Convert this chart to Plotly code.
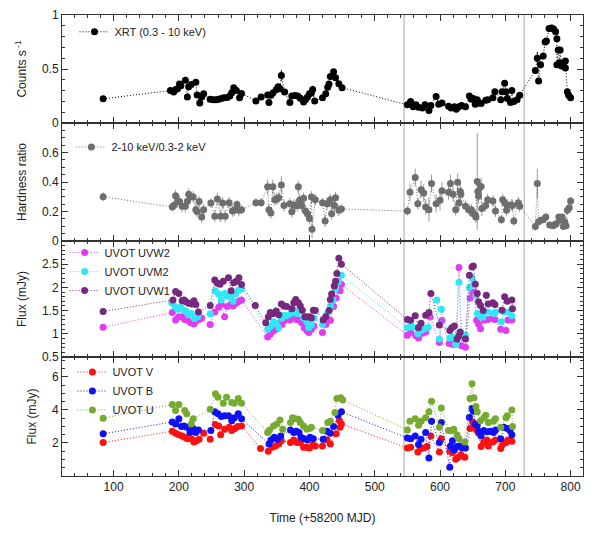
import plotly.graph_objects as go
from plotly.subplots import make_subplots

# XRT count rate (0.3-10 keV)
xrt_t = [84, 187, 192, 195, 198, 201, 203, 210, 213, 215, 219, 226, 228, 232, 235, 238, 248, 253, 257, 261, 265, 269, 274, 278, 281, 284, 288, 293, 296,
         318, 326, 336, 338, 341, 344, 349, 352, 355, 357, 362, 370, 373, 378, 382, 386, 391, 394, 397, 400, 403, 405, 408, 420, 425, 428, 430, 432, 437, 440, 445, 450,
         550, 555, 559, 563, 567, 573, 577, 583, 586, 594, 598, 603, 613, 617, 622, 625, 629, 633, 639, 645, 648, 651, 654, 657, 660, 663, 670, 673, 681, 684,
         693, 695, 699, 701, 703, 708, 710, 713, 718, 722,
         746, 749, 751, 754, 758, 761, 763, 767, 771, 774, 777, 779, 779, 781, 783, 784, 786, 789, 792, 792, 795, 797, 800]
xrt_rate = [0.224, 0.30, 0.286, 0.31, 0.316, 0.36, 0.345, 0.395, 0.24, 0.336, 0.357, 0.378, 0.26, 0.186, 0.24, 0.27, 0.22, 0.215, 0.215, 0.22, 0.227, 0.233, 0.236, 0.25, 0.28, 0.327, 0.30, 0.233, 0.274,
            0.204, 0.24, 0.26, 0.19, 0.257, 0.277, 0.307, 0.336, 0.316, 0.44, 0.286, 0.19, 0.25, 0.254, 0.25, 0.23, 0.195, 0.218, 0.24, 0.27, 0.277, 0.31, 0.204, 0.233, 0.27, 0.33, 0.36, 0.43, 0.475, 0.42, 0.363, 0.327,
            0.168, 0.198, 0.15, 0.168, 0.145, 0.139, 0.168, 0.115, 0.162, 0.245, 0.174, 0.186, 0.156, 0.139, 0.15, 0.127, 0.15, 0.162, 0.15, 0.25, 0.22, 0.227, 0.174, 0.215, 0.186, 0.18, 0.21, 0.215, 0.233, 0.29,
            0.215, 0.29, 0.369, 0.29, 0.227, 0.19, 0.30, 0.2, 0.215, 0.257,
            0.487, 0.6, 0.39, 0.54, 0.62, 0.75, 0.76, 0.876, 0.88, 0.87, 0.846, 0.78, 0.54, 0.676, 0.557, 0.676, 0.528, 0.54, 0.51, 0.575, 0.29, 0.257, 0.233]
xrt_err = [0.012] * len(xrt_t)
xrt_err[xrt_t.index(357)] = 0.05
xrt_err[xrt_t.index(749)] = 0.06
xrt_err[xrt_t.index(405)] = 0.035

# hardness ratio 2-10 keV / 0.3-2 keV
hr_t = [84, 190, 192, 195, 198, 201, 205, 210, 213, 215, 218, 222, 226, 228, 231, 235, 238, 249, 255, 259, 264, 267, 271, 277, 282, 285, 289, 292, 296,
        318, 326, 336, 338, 341, 344, 347, 350, 353, 357, 361, 370, 373, 376, 379, 382, 383, 385, 388, 391, 394, 397, 400, 403, 404, 409, 420, 424, 427, 431, 432, 434, 438, 440, 445, 449,
        550, 554, 562, 566, 571, 575, 578, 583, 587, 594, 600, 603, 613, 616, 620, 624, 627, 629, 631, 632, 639, 645, 648, 651, 654, 655, 657, 658, 659, 663, 664,
        670, 673, 681, 685, 694, 696, 699, 702, 703, 709, 711, 713, 720, 722,
        746, 749, 751, 754, 758, 762, 768, 773, 776, 778, 782, 784, 787, 789, 791, 793, 795, 798, 800]
hr_val = [0.30, 0.23, 0.24, 0.307, 0.267, 0.267, 0.235, 0.235, 0.27, 0.317, 0.30, 0.298, 0.212, 0.2, 0.267, 0.162, 0.212, 0.258, 0.167, 0.285, 0.167, 0.258, 0.167, 0.26, 0.203, 0.208, 0.248, 0.208, 0.212,
          0.26, 0.26, 0.367, 0.212, 0.19, 0.367, 0.28, 0.285, 0.294, 0.38, 0.24, 0.253, 0.198, 0.244, 0.24, 0.24, 0.367, 0.276, 0.24, 0.289, 0.203, 0.185, 0.153, 0.298, 0.08, 0.28, 0.26, 0.135, 0.253, 0.267, 0.28, 0.185, 0.24, 0.294, 0.208, 0.217,
          0.203, 0.33, 0.43, 0.253, 0.348, 0.325, 0.23, 0.212, 0.39, 0.253, 0.276, 0.34, 0.33, 0.39, 0.317, 0.212, 0.398, 0.258, 0.335, 0.317, 0.235, 0.208, 0.212, 0.185, 0.176, 0.162, 0.403, 0.335, 0.303, 0.37, 0.22,
          0.24, 0.28, 0.271, 0.203, 0.144, 0.28, 0.26, 0.208, 0.244, 0.244, 0.24, 0.135, 0.26, 0.235,
          0.099, 0.39, 0.13, 0.14, 0.144, 0.162, 0.108, 0.103, 0.112, 0.117, 0.162, 0.14, 0.162, 0.099, 0.13, 0.103, 0.208, 0.226, 0.271]
hr_err = [0.03, 0.03, 0.03, 0.04, 0.04, 0.04, 0.04, 0.04, 0.04, 0.04, 0.04, 0.04, 0.04, 0.04, 0.04, 0.04, 0.04, 0.03, 0.04, 0.04, 0.04, 0.04, 0.04, 0.04, 0.04, 0.04, 0.03, 0.04, 0.03,
          0.03, 0.03, 0.05, 0.04, 0.04, 0.05, 0.04, 0.04, 0.04, 0.06, 0.04, 0.04, 0.04, 0.04, 0.04, 0.04, 0.04, 0.04, 0.04, 0.04, 0.04, 0.04, 0.04, 0.04, 0.06, 0.04, 0.03, 0.04, 0.04, 0.04, 0.04, 0.04, 0.04, 0.04, 0.04, 0.03,
          0.03, 0.06, 0.06, 0.04, 0.06, 0.06, 0.05, 0.08, 0.06, 0.06, 0.07, 0.06, 0.05, 0.06, 0.05, 0.04, 0.06, 0.05, 0.06, 0.05, 0.04, 0.04, 0.04, 0.04, 0.04, 0.04, 0.33, 0.06, 0.05, 0.06, 0.05,
          0.04, 0.04, 0.04, 0.04, 0.03, 0.04, 0.04, 0.04, 0.04, 0.04, 0.04, 0.03, 0.04, 0.04,
          0.03, 0.1, 0.02, 0.02, 0.02, 0.02, 0.02, 0.02, 0.02, 0.02, 0.02, 0.02, 0.02, 0.02, 0.02, 0.02, 0.03, 0.03, 0.03]

# UVOT UV filters (mJy)
uvw2_t = [84, 190, 195, 200, 205, 209, 213, 218, 223, 226, 231, 235, 248, 255, 261, 265, 270, 274, 280, 283, 288, 292, 296,
          336, 340, 345, 350, 354, 358, 362, 370, 376, 380, 384, 388, 392, 396, 399, 403, 407, 420, 425, 430, 432, 437, 441, 444, 447, 449,
          550, 555, 563, 567, 573, 578, 585, 599, 603, 614, 620, 625, 629, 633, 639, 646, 650, 652, 656, 659, 662, 668, 673, 679, 684, 693, 701, 704, 710]
uvw2_f = [1.14, 1.46, 1.3, 1.37, 1.36, 1.31, 1.29, 1.24, 1.21, 1.27, 1.31, 1.34, 1.2, 1.47, 1.57, 1.63, 1.37, 1.59, 1.64, 1.6, 1.66, 1.7, 1.73,
          0.93, 0.99, 1.06, 1.11, 1.23, 1.2, 1.29, 1.3, 1.36, 1.31, 1.3, 1.24, 1.13, 1.07, 1.03, 1.1, 1.17, 1.03, 1.2, 1.3, 1.29, 1.59, 1.77, 2.13, 1.93, 2.06,
          0.97, 1.03, 0.96, 0.91, 1.01, 1.04, 1.36, 0.81, 1.29, 0.79, 0.77, 0.83, 2.43, 0.74, 0.71, 1.77, 1.89, 1.9, 1.29, 1.21, 1.11, 1.3, 1.31, 1.33, 1.31, 1.1, 1.07, 1.3, 1.3]

uvm2_t = [189, 194, 198, 203, 207, 211, 215, 219, 224, 229, 248, 256, 261, 265, 270, 274, 279, 283, 287, 291, 296,
          336, 340, 345, 349, 353, 357, 361, 365, 371, 377, 381, 386, 391, 396, 399, 403, 407, 420, 427, 432, 436, 440, 444, 449,
          550, 554, 559, 566, 571, 577, 582, 595, 599, 602, 615, 619, 624, 629, 634, 639, 645, 649, 652, 655, 657, 662, 666, 673, 682, 685, 694, 698, 704, 710]
uvm2_f = [1.67, 1.59, 1.53, 1.57, 1.51, 1.49, 1.41, 1.44, 1.33, 1.37, 1.43, 1.93, 1.86, 1.73, 1.87, 1.81, 1.8, 1.7, 1.86, 1.94, 1.97,
          1.1, 1.16, 1.26, 1.21, 1.13, 1.33, 1.4, 1.39, 1.43, 1.51, 1.44, 1.49, 1.34, 1.26, 1.13, 1.19, 1.34, 1.2, 1.44, 1.6, 1.73, 1.96, 2.11, 2.26,
          1.13, 1.16, 1.14, 1.0, 1.07, 1.11, 1.14, 1.73, 0.89, 1.53, 0.91, 0.93, 0.77, 2.11, 0.93, 0.97, 2.0, 2.21, 2.09, 1.83, 1.44, 1.37, 1.36, 1.47, 1.44, 1.47, 1.26, 1.47, 1.47, 1.39]

uvw1_t = [84, 191, 195, 200, 205, 208, 211, 215, 220, 223, 226, 230, 248, 255, 259, 263, 268, 276, 280, 284, 288, 292, 296, 317,
          333, 337, 340, 344, 349, 353, 357, 361, 365, 373, 376, 379, 383, 386, 389, 393, 396, 400, 403, 406, 409, 421, 425, 430, 432, 434, 438, 440, 442, 445, 449,
          550, 555, 562, 567, 571, 578, 583, 586, 599, 615, 618, 622, 626, 629, 631, 639, 645, 649, 651, 654, 657, 659, 662, 666, 671, 674, 681, 684, 695, 699, 703, 710, 711]
uvw1_f = [1.48, 1.73, 1.91, 1.87, 1.71, 1.73, 1.69, 1.66, 1.64, 1.71, 1.63, 1.47, 1.61, 2.16, 2.09, 2.07, 2.13, 2.21, 1.93, 2.1, 2.13, 2.21, 2.06, 1.61,
          1.24, 1.36, 1.46, 1.43, 1.49, 1.41, 1.64, 1.6, 1.59, 1.54, 1.67, 1.74, 1.67, 1.6, 1.51, 1.37, 1.36, 1.37, 1.34, 1.51, 1.5, 1.3, 1.37, 1.5, 1.74, 1.86, 2.03, 2.13, 2.3, 2.63, 2.5,
          1.31, 1.29, 1.39, 1.13, 1.23, 1.4, 1.46, 1.87, 1.19, 1.07, 1.13, 1.17, 0.89, 0.96, 1.04, 0.89, 2.26, 2.44, 2.46, 2.07, 1.87, 1.69, 1.61, 1.5, 1.83, 1.64, 1.67, 1.63, 1.51, 1.8, 1.7, 1.73, 1.54]

# UVOT optical filters (mJy)
v_t = [84, 190, 195, 200, 205, 209, 213, 220, 223, 227, 231, 238, 248, 256, 261, 264, 270, 277, 281, 286, 290, 296, 325,
       337, 343, 348, 353, 357, 371, 376, 381, 386, 391, 395, 400, 405, 409, 420, 427, 432, 441, 446, 447, 449,
       550, 555, 566, 570, 575, 580, 586, 599, 602, 615, 619, 624, 628, 632, 638, 646, 650, 653, 656, 659, 663, 667, 672, 674, 681, 685, 693, 696, 701, 704, 710]
v_f = [2.02, 2.71, 2.59, 2.5, 2.42, 2.34, 2.26, 2.22, 2.06, 2.14, 2.22, 2.59, 2.22, 3.11, 3.03, 2.5, 2.83, 2.95, 2.75, 2.87, 2.99, 3.03, 1.66,
       1.5, 1.74, 1.82, 1.94, 2.14, 2.02, 2.18, 2.02, 2.02, 1.74, 1.74, 1.7, 1.86, 1.82, 1.82, 2.2, 1.94, 2.55, 3.35, 2.95, 3.15,
       1.7, 1.74, 1.45, 1.66, 1.7, 1.78, 2.42, 1.45, 2.26, 1.5, 1.41, 1.01, 1.13, 1.29, 1.13, 2.87, 3.27, 3.03, 2.79, 2.59, 1.78, 2.02, 2.18, 1.82, 2.06, 2.18, 1.66, 1.9, 2.02, 2.18, 2.1]

b_t = [84, 190, 195, 200, 204, 208, 212, 217, 222, 226, 230, 249, 255, 260, 265, 270, 276, 281, 285, 291, 296,
       338, 341, 346, 351, 356, 371, 376, 380, 384, 387, 392, 397, 401, 406, 421, 427, 432, 437, 444, 449,
       550, 555, 562, 567, 571, 578, 583, 587, 599, 602, 615, 616, 619, 622, 626, 630, 634, 639, 645, 649, 651, 654, 657, 659, 663, 667, 672, 677, 682, 685, 693, 698, 703, 707, 710]
b_f = [2.55, 3.27, 3.15, 3.47, 2.99, 3.03, 2.95, 2.63, 2.87, 2.63, 2.79, 2.75, 3.88, 3.76, 3.6, 3.64, 3.64, 3.35, 3.52, 3.76, 3.47,
       1.94, 2.18, 2.34, 2.22, 2.42, 2.79, 2.63, 2.71, 2.63, 2.34, 2.26, 2.18, 2.34, 2.26, 2.22, 2.71, 2.59, 2.99, 3.68, 3.88,
       2.3, 2.26, 2.42, 1.9, 2.22, 2.63, 1.09, 3.31, 2.02, 3.23, 0.53, 1.82, 2.14, 1.58, 1.78, 1.82, 1.7, 1.7, 3.56, 4.08, 3.92, 3.15, 3.07, 2.71, 2.42, 2.75, 2.67, 2.71, 2.63, 2.79, 2.26, 2.95, 2.87, 2.75, 2.5]

u_t = [84, 190, 195, 200, 209, 212, 219, 222, 248, 256, 260, 268, 273, 281, 285, 291, 296,
       336, 339, 345, 350, 355, 359, 371, 374, 378, 383, 386, 391, 396, 400, 403, 420, 428, 432, 439, 442, 448, 451,
       550, 554, 562, 567, 571, 578, 583, 587, 599, 602, 613, 617, 621, 626, 629, 638, 646, 649, 652, 655, 657, 662, 667, 670, 674, 682, 685, 693, 701, 703, 710, 711]
u_f = [3.5, 4.32, 3.96, 4.32, 3.96, 3.76, 3.15, 3.47, 4.04, 4.97, 4.77, 4.4, 4.77, 4.44, 4.4, 4.69, 4.4,
       2.63, 2.79, 3.03, 3.15, 3.39, 2.83, 3.23, 3.52, 3.47, 3.43, 3.23, 3.03, 2.83, 2.87, 2.95, 2.75, 3.23, 3.31, 3.84, 4.69, 4.73, 4.6,
       2.79, 3.31, 3.47, 3.07, 3.31, 3.52, 3.88, 4.53, 2.95, 4.12, 2.75, 2.75, 2.83, 2.5, 2.26, 2.06, 4.69, 5.58, 4.73, 4.2, 3.88, 3.35, 3.52, 3.68, 3.23, 3.31, 3.47, 2.95, 3.52, 3.64, 4.0, 2.99]

vlines = [545, 729]

FONT = "Liberation Sans, Arial, sans-serif"

fig = make_subplots(rows=4, cols=1, shared_xaxes=True, vertical_spacing=0,
                    row_heights=[108, 118, 116, 119])


def add(t, y, name, color, row, legend, err=None, errcolor=None):
    kw = {}
    if err is not None:
        kw['error_y'] = dict(type='data', array=err, color=errcolor or color, thickness=1, width=0)
    fig.add_trace(go.Scatter(x=t, y=y, name=name, mode='lines+markers',
                             line=dict(color=color, width=1, dash='1px,2px'),
                             marker=dict(color=color, size=7),
                             legend=legend, **kw), row=row, col=1)


add(xrt_t, xrt_rate, 'XRT (0.3 - 10 keV)', '#000000', 1, 'legend', xrt_err)
add(hr_t, hr_val, '2-10 keV/0.3-2 keV', '#6e6e6e', 2, 'legend2', hr_err, '#9a9a9a')
add(uvw2_t, uvw2_f, 'UVOT UVW2', '#e23cf0', 3, 'legend3')
add(uvm2_t, uvm2_f, 'UVOT UVM2', '#30e8f5', 3, 'legend3')
add(uvw1_t, uvw1_f, 'UVOT UVW1', '#76287f', 3, 'legend3')
add(v_t, v_f, 'UVOT V', '#ff1010', 4, 'legend4')
add(b_t, b_f, 'UVOT B', '#1010f5', 4, 'legend4')
add(u_t, u_f, 'UVOT U', '#76ab2f', 4, 'legend4')

for xv in vlines:
    fig.add_shape(type='line', xref='x', yref='paper', x0=xv, x1=xv, y0=0, y1=1,
                  line=dict(color='#c4c4c4', width=1.5), layer='below')

axis_style = dict(showline=True, linecolor='#333333', linewidth=1, mirror='ticks',
                  ticks='inside', ticklen=6, tickcolor='#333333', showgrid=False, zeroline=False,
                  automargin=False, ticklabeloverflow='allow', tickfont=dict(size=12, color='#222222'))

for r in range(1, 5):
    fig.update_xaxes(range=[21, 819], dtick=100, tick0=0,
                     minor=dict(ticks='inside', ticklen=3, dtick=20, tickcolor='#333333'),
                     showticklabels=(r == 4), row=r, col=1, **axis_style)

fig.update_xaxes(title=dict(text='Time (+58200 MJD)', font=dict(size=12, color='#222222'), standoff=20), row=4, col=1)

ytitle = dict(size=12, color='#222222')
fig.update_yaxes(range=[0, 1], tickvals=[0, 0.5, 1], ticktext=['0', '0.5', '1'],
                 minor=dict(ticks='inside', ticklen=3, dtick=0.1, tickcolor='#333333'),
                 title=dict(text='Counts s<sup> -1</sup>', font=ytitle, standoff=12), row=1, col=1, **axis_style)
fig.update_yaxes(range=[0, 0.8], tickvals=[0, 0.2, 0.4, 0.6],
                 minor=dict(ticks='inside', ticklen=3, dtick=0.05, tickcolor='#333333'),
                 title=dict(text='Hardness ratio', font=ytitle, standoff=12), row=2, col=1, **axis_style)
fig.update_yaxes(range=[0.5, 3], tickvals=[0.5, 1, 1.5, 2, 2.5],
                 minor=dict(ticks='inside', ticklen=3, dtick=0.1, tickcolor='#333333'),
                 title=dict(text='Flux (mJy)', font=ytitle, standoff=12), row=3, col=1, **axis_style)
fig.update_yaxes(range=[0, 7.2], tickvals=[2, 4, 6],
                 minor=dict(ticks='inside', ticklen=3, dtick=0.5, tickcolor='#333333'),
                 title=dict(text='Flux (mJy)', font=ytitle, standoff=12), row=4, col=1, **axis_style)

leg = dict(bgcolor='rgba(0,0,0,0)', font=dict(size=11, color='#222222', family=FONT),
           xanchor='left', yanchor='top', tracegroupgap=0, itemwidth=30)
fig.update_layout(
    width=609, height=534,
    margin=dict(l=54, r=34, t=7, b=66),
    paper_bgcolor='white', plot_bgcolor='white',
    font=dict(family=FONT, color='#222222'),
    showlegend=True,
    legend=dict(x=0.024, y=0.995, **leg),
    legend2=dict(x=0.018, y=0.745, **leg),
    legend3=dict(x=0.005, y=0.516, **leg),
    legend4=dict(x=0.02, y=0.257, **leg),
)

fig.write_html("out.html")
